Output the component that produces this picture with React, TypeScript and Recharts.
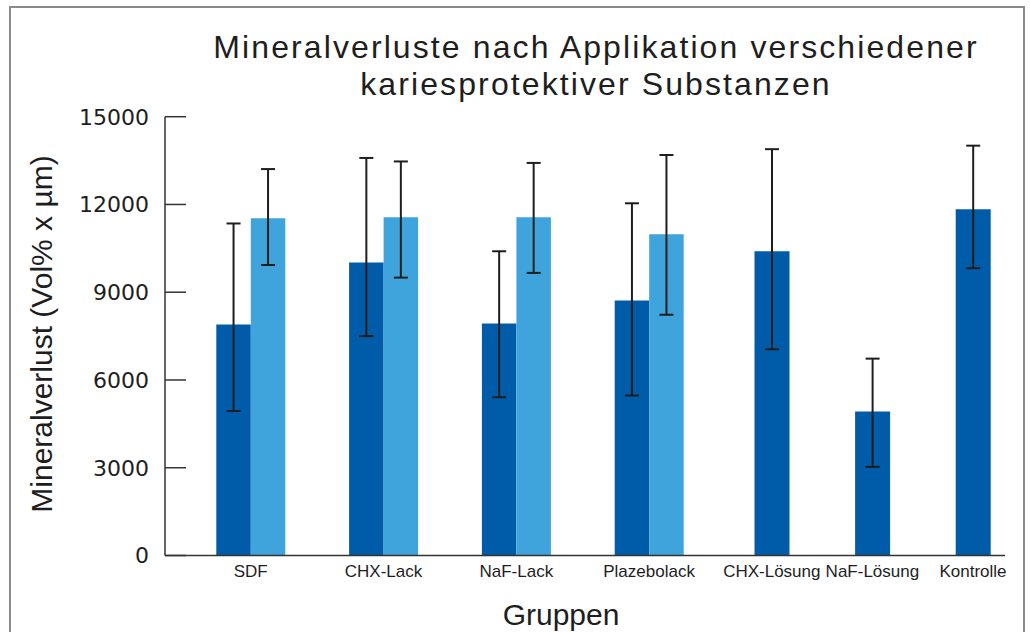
import { BarChart, Bar, XAxis, YAxis, ErrorBar } from "recharts";

// groups with two bars (dark + light) and groups with a single dark bar
const pairedGroups = ["SDF", "CHX-Lack", "NaF-Lack", "Plazebolack"];
const singleGroups = ["CHX-Lösung", "NaF-Lösung", "Kontrolle"];

const darkMean = [7900, 10020, 7930, 8720];
const darkLow = [4940, 7500, 5410, 5470];
const darkHigh = [11350, 13590, 10400, 12040];

const lightMean = [11530, 11560, 11560, 10980];
const lightLow = [9930, 9500, 9660, 8230];
const lightHigh = [13210, 13470, 13420, 13690];

const singleMean = [10400, 4920, 11840];
const singleLow = [7050, 3030, 9820];
const singleHigh = [13890, 6730, 14010];

const yTicks = [0, 3000, 6000, 9000, 12000, 15000];

const DARK = "#005CA9";
const LIGHT = "#40A4DC";
const INK = "#1e1e1e";

const data = [
  ...pairedGroups.map((g, i) => ({
    group: g,
    dark: darkMean[i],
    darkErr: [darkMean[i] - darkLow[i], darkHigh[i] - darkMean[i]],
    light: lightMean[i],
    lightErr: [lightMean[i] - lightLow[i], lightHigh[i] - lightMean[i]],
  })),
  ...singleGroups.map((g, i) => ({
    group: g,
    single: singleMean[i],
    singleErr: [singleMean[i] - singleLow[i], singleHigh[i] - singleMean[i]],
  })),
];

const YTick = (props: any) => {
  const { x, y, payload } = props;
  const axisX = x + 16;
  return (
    <g>
      <line x1={axisX} x2={axisX + 21} y1={y} y2={y} stroke="#333" strokeWidth={1.5} />
      <text
        x={x}
        y={y}
        dy="0.36em"
        textAnchor="end"
        fill={INK}
        fontFamily="DejaVu Sans"
        fontSize={22}
      >
        {payload.value}
      </text>
    </g>
  );
};

const catTick = { fill: INK, fontSize: 17, fontFamily: "Liberation Sans" };

export default function App() {
  return (
    <div style={{ position: "relative", width: 1030, height: 632, overflow: "hidden", background: "#fff" }}>
      <style>{`body{margin:0}`}</style>
      <div
        style={{
          position: "absolute",
          left: 9,
          top: 6,
          width: 1012,
          height: 700,
          border: "2px solid #8a8a8a",
        }}
      />
      <div style={{ position: "absolute", left: 0, top: 0 }}>
        <BarChart
          width={1030}
          height={632}
          data={data}
          margin={{ top: 116.7, right: 25, bottom: 74.5, left: 164 }}
          barGap={0}
        >
          <YAxis
            domain={[0, 15000]}
            ticks={yTicks}
            width={1}
            tickSize={0}
            tickMargin={16}
            tickLine={false}
            tick={<YTick />}
            stroke="#333"
            strokeWidth={1.5}
            interval={0}
          />
          <XAxis
            xAxisId="base"
            type="number"
            domain={[0, 1]}
            ticks={[0, 1]}
            mirror
            tick={false}
            tickSize={10}
            height={1}
            stroke="#333"
            strokeWidth={1.5}
          />
          <XAxis
            xAxisId="pair"
            dataKey="group"
            padding={{ left: 19.3, right: -108.9 }}
            axisLine={false}
            tickLine={false}
            tickSize={0}
            tickMargin={9}
            height={1}
            interval={0}
            tick={catTick}
            tickFormatter={(v: string) => (pairedGroups.includes(v) ? v : "")}
          />
          <XAxis
            xAxisId="single"
            dataKey="group"
            padding={{ left: 154.1, right: -18.3 }}
            axisLine={false}
            tickLine={false}
            tickSize={0}
            tickMargin={8}
            height={1}
            interval={0}
            tick={catTick}
            tickFormatter={(v: string) => (singleGroups.includes(v) ? v : "")}
          />
          <Bar xAxisId="pair" dataKey="dark" fill={DARK} barSize={34.5} isAnimationActive={false}>
            <ErrorBar dataKey="darkErr" width={7} stroke={INK} strokeWidth={2} direction="y" />
          </Bar>
          <Bar xAxisId="pair" dataKey="light" fill={LIGHT} barSize={34.5} isAnimationActive={false}>
            <ErrorBar dataKey="lightErr" width={7} stroke={INK} strokeWidth={2} direction="y" />
          </Bar>
          <Bar xAxisId="single" dataKey="single" fill={DARK} barSize={35} isAnimationActive={false}>
            <ErrorBar dataKey="singleErr" width={7} stroke={INK} strokeWidth={2} direction="y" />
          </Bar>
        </BarChart>
      </div>
      <svg
        width={1030}
        height={632}
        style={{ position: "absolute", left: 0, top: 0, pointerEvents: "none" }}
      >
        <g fontFamily="Liberation Sans" fill={INK}>
          <text x={596} y={58.3} textAnchor="middle" fontSize={32} letterSpacing={2.1}>
            Mineralverluste nach Applikation verschiedener
          </text>
          <text x={596} y={95.3} textAnchor="middle" fontSize={32} letterSpacing={2.1}>
            kariesprotektiver Substanzen
          </text>
          <text
            transform="translate(52,334) rotate(-90)"
            textAnchor="middle"
            fontSize={30}
          >
            Mineralverlust (Vol% x µm)
          </text>
          <text x={561} y={625} textAnchor="middle" fontSize={30}>
            Gruppen
          </text>
        </g>
      </svg>
    </div>
  );
}
